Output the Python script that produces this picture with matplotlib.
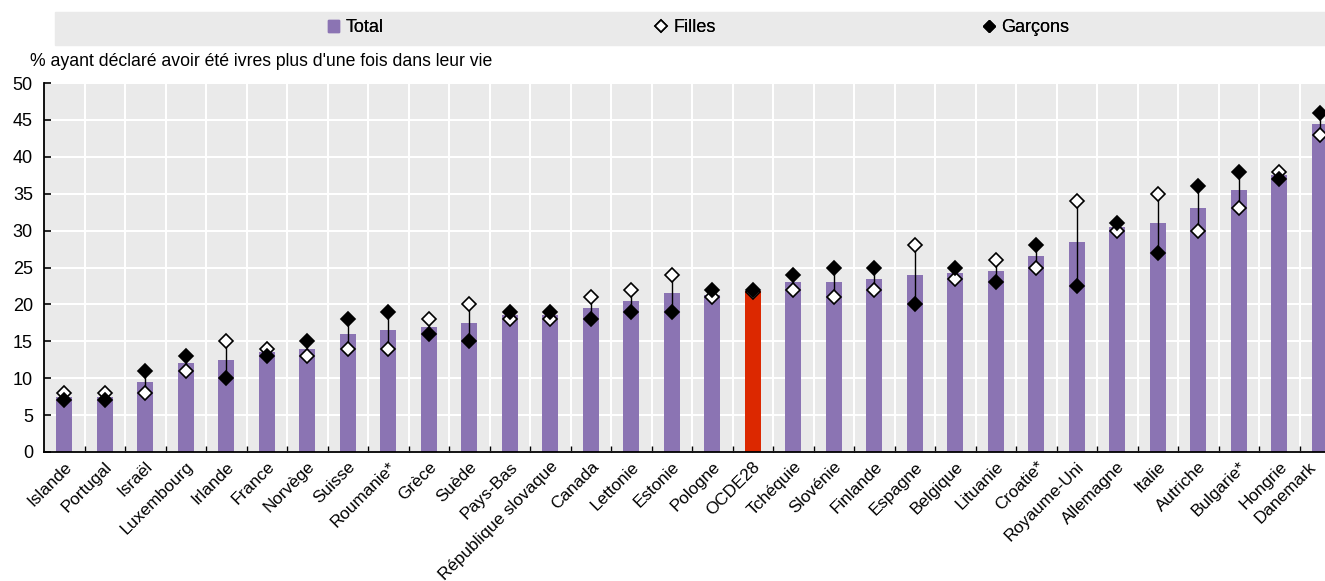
import numpy as np
import matplotlib
matplotlib.use("Agg")
import matplotlib.pyplot as plt
import matplotlib.transforms as mtransforms
from matplotlib.patches import Patch, Rectangle
from matplotlib.lines import Line2D

plt.rcParams['font.family'] = ['Liberation Sans', 'DejaVu Sans']

countries = ['Islande', 'Portugal', 'Israël', 'Luxembourg', 'Irlande', 'France', 'Norvège',
             'Suisse', 'Roumanie*', 'Grèce', 'Suède', 'Pays-Bas', 'République slovaque',
             'Canada', 'Lettonie', 'Estonie', 'Pologne', 'OCDE28', 'Tchéquie', 'Slovénie',
             'Finlande', 'Espagne', 'Belgique', 'Lituanie', 'Croatie*', 'Royaume-Uni',
             'Allemagne', 'Italie', 'Autriche', 'Bulgarie*', 'Hongrie', 'Danemark']
total = [7.5, 7.5, 9.5, 12, 12.5, 13.5, 14, 16, 16.5, 17, 17.5, 18.5, 18.5, 19.5, 20.5, 21.5,
         21.3, 21.8, 23, 23, 23.5, 24, 24.3, 24.5, 26.5, 28.4, 30.5, 31, 33, 35.5, 37.5, 44.5]
filles = [8, 8, 8, 11, 15, 14, 13, 14, 14, 18, 20, 18, 18, 21, 22, 24,
          21, 21.7, 22, 21, 22, 28, 23.5, 26, 25, 34, 30, 35, 30, 33, 38, 43]
garcons = [7, 7, 11, 13, 10, 13, 15, 18, 19, 16, 15, 19, 19, 18, 19, 19,
           22, 21.9, 24, 25, 25, 20, 25, 23, 28, 22.5, 31, 27, 36, 38, 37, 46]

purple = '#8B74B3'
red = '#DC2800'
grey = '#EAEAEA'

fig = plt.figure(figsize=(13.25, 5.81), dpi=100)
ax = fig.add_axes([44 / 1325, 1 - 452 / 581, 1281 / 1325, 369 / 581])
ax.set_facecolor(grey)

x = np.arange(len(countries))
colors = [red if c == 'OCDE28' else purple for c in countries]
ax.bar(x, total, width=0.4, color=colors, zorder=2)

# trait entre filles et garçons
ax.vlines(x, np.minimum(filles, garcons), np.maximum(filles, garcons),
          color='black', lw=1, zorder=3)
ax.plot(x, filles, ls='none', marker='D', ms=6.8, mfc='white', mec='black', mew=1.2, zorder=4)
ax.plot(x, garcons, ls='none', marker='D', ms=6.8, mfc='black', mec='black', mew=1.2, zorder=5)

ax.set_xlim(-0.5, -0.5 + 1281 / 40.5)
ax.set_ylim(0, 50)
ax.set_yticks(np.arange(0, 51, 5))
ax.set_xticks(x[:-1] + 0.5, minor=True)
ax.set_xticks([])

# libellés des pays, posés à la main pour pouvoir décaler Danemark
for i, name in enumerate(countries):
    dx = -11 if i == len(countries) - 1 else 0
    off = mtransforms.ScaledTranslation(dx / 100, -7 / 100, fig.dpi_scale_trans)
    ax.text(i, 0, name, transform=ax.get_xaxis_transform() + off, rotation=45,
            ha='right', va='top', rotation_mode='anchor', fontsize=12.3)

ax.tick_params(axis='x', which='minor', direction='in', length=4, width=1, color='black')
ax.tick_params(axis='y', direction='in', length=5, width=1.2, labelsize=13, pad=8)
ax.grid(True, axis='y', color='white', lw=1.5, zorder=1)
ax.grid(True, axis='x', which='minor', color='white', lw=1.5, zorder=1)
ax.set_axisbelow(True)
for s in ['top', 'right']:
    ax.spines[s].set_visible(False)
ax.spines['left'].set_linewidth(1.3)
ax.spines['bottom'].set_linewidth(1.3)

fig.text(30 / 1325, 1 - 61 / 581, "% ayant déclaré avoir été ivres plus d'une fois dans leur vie",
         fontsize=12.7, ha='left', va='center')

# légende dans un bandeau gris
fig.patches.append(Rectangle((55 / 1325, 1 - 45 / 581), 1270 / 1325, 33 / 581,
                             transform=fig.transFigure, color=grey, zorder=0))
handles = [Patch(color=purple, label='Total'),
           Line2D([], [], ls='none', marker='D', ms=6.5, mfc='white', mec='black', mew=1.2, label='Filles'),
           Line2D([], [], ls='none', marker='D', ms=6.5, mfc='black', mec='black', label='Garçons')]
leg_x = [328, 656, 984]
for h, lx in zip(handles, leg_x):
    leg = fig.legend(handles=[h], loc='center left', bbox_to_anchor=(lx / 1325, 1 - 28 / 581),
                     frameon=False, fontsize=13, handlelength=0.6, handleheight=0.6,
                     handletextpad=0.35, borderpad=0, borderaxespad=0)
    fig.add_artist(leg)

fig.savefig('out.png', dpi=100)
